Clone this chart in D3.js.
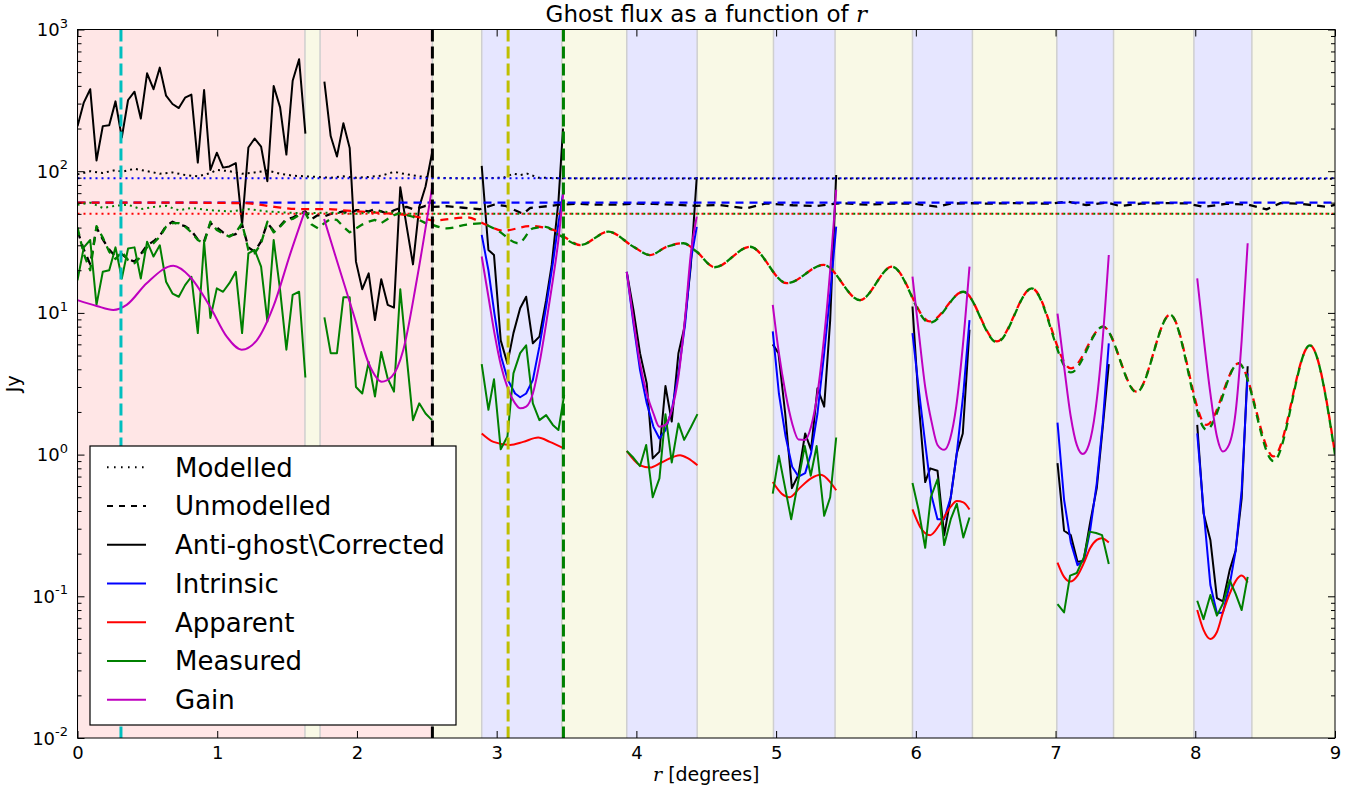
<!DOCTYPE html>
<html>
<head>
<meta charset="utf-8">
<script src="https://cdn.jsdelivr.net/npm/d3@7"></script>
<style>
  body { margin: 0; background: #fff; }
  text { font-family: "DejaVu Sans", sans-serif; }
</style>
</head>
<body>
<svg id="chart" width="1358" height="795"></svg>
<script>
// ---------------------------------------------------------------------------
// DATA (r in degrees, flux in Jy)
// ---------------------------------------------------------------------------
const xTickValues = [0, 1, 2, 3, 4, 5, 6, 7, 8, 9];
const yDecades = [-2, -1, 0, 1, 2, 3];

// shaded r ranges
const pinkSpans = [[0, 1.628], [1.736, 2.54]];
const blueSpans = [[2.893, 3.466], [3.931, 4.435], [4.981, 5.422], [5.976, 6.405], [7.009, 7.415], [7.99, 8.405]];

// vertical dashed markers
const markerR = [0.311, 2.54, 3.082, 3.478];
const markerColor = ["#00bfbf", "#000000", "#bfbf00", "#008000"];

// sample grid of the inner (noisy) region
const rLeft = [0.000, 0.045, 0.091, 0.136, 0.181, 0.227, 0.272, 0.317, 0.362, 0.408,
  0.453, 0.498, 0.544, 0.589, 0.634, 0.680, 0.725, 0.770, 0.815, 0.861,
  0.906, 0.951, 0.997, 1.042, 1.087, 1.133, 1.178, 1.223, 1.268, 1.314,
  1.359, 1.404, 1.450, 1.495, 1.540, 1.586, 1.631, 1.676, 1.721, 1.767,
  1.812, 1.857, 1.903, 1.948, 1.993, 2.038, 2.084, 2.129, 2.174, 2.220,
  2.265, 2.310, 2.356, 2.401, 2.446, 2.491, 2.537];

// solid "Anti-ghost\Corrected" (black) in the inner region
const corrLeft = [208, 305, 379, 119, 208, 211, 311, 173, 318, 364,
  235, 491, 379, 538, 341, 298, 279, 330, 347, 115,
  374, 102, 135, 106, 108, 114, 42, 147, 170, 149,
  85, 399, 282, 131, 435, 616, 184, null, null, 428,
  177, 127, 218, 146, 23, 14.7, 19, 8.9, 17.3, 11.4,
  10.9, 77, 40.6, 22, 56, 78, 134];

// solid "Measured" (green) in the inner region
const measLeft = [17, 29, 32.7, 11.4, 19.5, 20, 29, 17.5, 28.5, 29,
  17.5, 31.8, 25, 30, 16.6, 13.7, 13, 15.7, 18, 7.2,
  31.8, 9.2, 14.9, 14.1, 16.2, 19.5, 7.2, 26.3, 27.8, 21.2,
  8.7, 32.7, 14.5, 5.5, 13.4, 14.1, 3.5, null, null, 9.3,
  5.2, 5.2, 12.9, 12.9, 3.0, 2.7, 4.5, 2.57, 5.3, 3.45,
  2.78, 14.7, 4.9, 1.75, 2.3, 1.95, 1.75];

// dashed "Unmodelled" measured (green) and corrected (black), inner region
const unmodMeasLeft = [40, 26, 20, 41, 34, 27, 24, 27, 23.6, 22.4,
  25, 29, 31, 34.5, 40.6, 43, 43, 40.6, 37, 32.7,
  31, 44, 38.5, 36.4, 34.5, 37, 43, 27.8, 26.3, 31,
  44, 37, 40.6, 45.3, 46, 49, 50.5, 42, 39.5, 43,
  46, 45.3, 40.6, 37, 39.5, 42, 44, 45.3, 43, 46,
  49, 50.5, 49, 47.7, 45.3, 43, 42];
const unmodCorrLeft = [38, 28, 22, 40, 33, 28, 25, 26, 24, 23,
  26, 30, 32, 35, 41, 44, 42, 41, 38, 33,
  32, 43, 40, 37, 35, 36, 42, 29, 27, 32,
  43, 38, 41, 46, 47, 50, 52, 46, 49, 48,
  50, 51, 52, 50, 53, 53, 52, 54, 52, 50,
  53, 55, 56, 54, 55, 57, 56];

const unmodCorrTail = [[2.64, 56.6], [2.76, 55.2], [2.88, 53.9], [2.98, 58], [3.06, 57], [3.14, 52.6],
  [3.19, 50], [3.24, 55], [3.36, 56.6], [3.455, 58], [3.57, 59], [3.69, 58], [3.84, 58], [3.98, 59],
  [4.12, 58.8], [4.27, 58], [4.43, 57], [4.6, 57.7], [4.79, 54.7], [4.93, 59.3], [5.12, 57.5],
  [5.29, 56.8], [5.46, 59.5], [5.65, 58], [5.83, 59], [5.98, 59], [6.15, 56.2], [6.25, 59],
  [6.37, 59.5], [6.53, 59], [6.70, 59.5], [6.96, 59], [7.08, 61], [7.22, 57.7], [7.37, 60],
  [7.46, 56.8], [7.61, 59], [7.80, 59.5], [7.94, 59.3], [8.06, 56], [8.23, 59], [8.38, 58],
  [8.51, 53.8], [8.61, 59.5], [8.75, 59], [8.94, 56], [9.0, 58]];

const unmodApparent = [[0, 60], [0.6, 60], [1.2, 59.5], [1.41, 56], [1.6, 54], [1.8, 54], [1.9, 53],
  [2.13, 51], [2.37, 49], [2.46, 47], [2.55, 45], [2.786, 47.2], [2.929, 41.7], [3.048, 38],
  [3.24, 41], [3.406, 38.5], [3.50, 33.6], [3.598, 30.1], [3.80, 37.4], [3.979, 29.3],
  [4.098, 25.6], [4.217, 29.3], [4.337, 31], [4.432, 27], [4.56, 21], [4.814, 29.3],
  [5.077, 16.2], [5.34, 21.8], [5.60, 12.3], [5.83, 21.2], [6.10, 8.7], [6.34, 14.1],
  [6.58, 6.3], [6.83, 14.9], [7.11, 4.06], [7.34, 8.0], [7.58, 2.78], [7.82, 9.7],
  [8.08, 1.62], [8.31, 4.4], [8.56, 0.97], [8.82, 5.9], [9.0, 1.02]];

const unmodMeasTail = [[2.537, 42], [2.643, 39.5], [2.786, 42], [2.88, 42.8], [3.0, 38.5],
  [3.155, 31], [3.26, 39.5], [3.35, 40.5], [3.45, 35.3], [3.598, 30.1], [3.80, 37.4],
  [3.979, 29.3], [4.098, 25.6], [4.217, 29.3], [4.337, 31], [4.432, 27], [4.56, 21],
  [4.814, 29.3], [5.077, 16.2], [5.34, 21.8], [5.60, 12.3], [5.83, 21.2], [6.10, 8.5],
  [6.34, 14.1], [6.58, 6.2], [6.83, 14.9], [7.11, 3.8], [7.34, 8.0], [7.58, 2.75],
  [7.82, 9.7], [8.08, 1.5], [8.31, 4.4], [8.56, 0.9], [8.82, 5.9], [9.0, 1.0]];

const unmodIntrinsic = [[0, 60], [9, 60]];

// dotted "Modelled" lines
const modIntrinsic = [[0, 89], [9, 89]];
const modApparent = [[0, 50], [9, 50]];
const modCorr = [[0, 95], [0.091, 100], [0.181, 97], [0.272, 102], [0.317, 99], [0.408, 104],
  [0.498, 100], [0.589, 96], [0.680, 98], [0.770, 94], [0.861, 92], [0.951, 97], [0.997, 102],
  [1.087, 100], [1.178, 96], [1.268, 98], [1.359, 101], [1.450, 96], [1.540, 93], [1.631, 92],
  [1.721, 91], [1.812, 90], [1.903, 92], [1.993, 90], [2.084, 91], [2.174, 93], [2.265, 99],
  [2.356, 95], [2.446, 92], [2.537, 90], [2.8, 89], [3.05, 90], [3.12, 96], [3.17, 94],
  [3.22, 96], [3.3, 90], [3.5, 89], [9, 88.5]];
const modMeas = [[0, 58], [0.091, 60], [0.181, 55], [0.272, 57], [0.362, 58], [0.453, 54],
  [0.544, 56], [0.634, 57], [0.725, 53], [0.815, 55], [0.951, 53], [1.087, 52], [1.223, 54],
  [1.359, 52], [1.495, 51], [1.631, 50.5], [1.812, 51], [1.993, 50], [2.174, 52], [2.356, 50],
  [2.537, 50], [9, 50]];

// solid curves inside the shaded bands, one array per band
const corrBands = [
  [[2.893, 109], [2.941, 27.8], [2.981, 25.6], [3.029, 6.4], [3.077, 4.4], [3.12, 7.2], [3.168, 10.8], [3.211, 13], [3.259, 6.1], [3.306, 6.8], [3.354, 12.3], [3.394, 21.8], [3.442, 61], [3.475, 200]],
  [[3.931, 19.5], [3.979, 10.5], [4.026, 5.2], [4.074, 3.18], [4.117, 0.94], [4.165, 1.05], [4.208, 3.05], [4.253, 1.71], [4.301, 5.2], [4.342, 7.8], [4.389, 21.2], [4.432, 91]],
  [[4.976, 6.0], [5.017, 5.2], [5.065, 1.95], [5.113, 0.58], [5.16, 0.72], [5.208, 1.41], [5.25, 1.08], [5.296, 2.94], [5.344, 2.18], [5.387, 8.9], [5.43, 94]],
  [[5.976, 11.1], [6.019, 2.43], [6.067, 0.64], [6.103, 0.80], [6.155, 0.77], [6.203, 0.27], [6.25, 0.50], [6.293, 1.02], [6.336, 1.41], [6.384, 7.6]],
  [[7.014, 0.87], [7.061, 0.29], [7.109, 0.27], [7.157, 0.175], [7.2, 0.178], [7.247, 0.33], [7.295, 0.58], [7.338, 1.57], [7.381, 4.35]],
  [[8.014, 1.62], [8.059, 0.385], [8.108, 0.25], [8.155, 0.097], [8.198, 0.092], [8.246, 0.153], [8.289, 0.21], [8.332, 0.49], [8.375, 4.2]]
];
const intrinsicBands = [
  [[2.893, 35.5], [2.941, 20], [2.984, 9.9], [3.032, 4.9], [3.08, 3.36], [3.132, 2.7], [3.168, 2.54], [3.211, 2.7], [3.259, 3.36], [3.306, 5.8], [3.354, 11.1], [3.402, 22.4], [3.442, 42.9], [3.478, 73]],
  [[3.931, 19.5], [3.979, 8.4], [4.026, 3.95], [4.074, 2.3], [4.122, 1.57], [4.165, 1.30], [4.208, 1.49], [4.253, 2.06], [4.301, 3.74], [4.349, 8.4], [4.39, 23.6], [4.432, 40.5]],
  [[4.976, 7.4], [5.02, 2.7], [5.068, 1.34], [5.115, 0.82], [5.16, 0.70], [5.208, 0.74], [5.25, 1.02], [5.296, 1.95], [5.344, 5.2], [5.387, 13.7], [5.43, 40.6]],
  [[5.976, 7.2], [6.019, 3.0], [6.067, 1.2], [6.115, 0.50], [6.155, 0.35], [6.203, 0.35], [6.25, 0.50], [6.293, 1.02], [6.34, 2.7], [6.384, 8.9]],
  [[7.014, 1.68], [7.061, 0.48], [7.109, 0.24], [7.157, 0.166], [7.204, 0.18], [7.247, 0.29], [7.295, 0.63], [7.338, 1.68], [7.381, 6.1]],
  [[8.014, 1.41], [8.059, 0.41], [8.108, 0.12], [8.155, 0.076], [8.198, 0.077], [8.246, 0.12], [8.289, 0.21], [8.332, 0.56], [8.375, 3.74]]
];
const apparentBands = [
  [[2.893, 1.41], [2.977, 1.23], [3.096, 1.17], [3.19, 1.23], [3.297, 1.32], [3.38, 1.23], [3.478, 1.11]],
  [[3.931, 1.06], [4.026, 0.84], [4.098, 0.81], [4.18, 0.88], [4.313, 0.99], [4.37, 0.94], [4.437, 0.84]],
  [[4.976, 0.64], [5.04, 0.53], [5.097, 0.50], [5.168, 0.58], [5.25, 0.68], [5.32, 0.72], [5.387, 0.64], [5.43, 0.56]],
  [[5.976, 0.41], [6.03, 0.31], [6.103, 0.27], [6.17, 0.32], [6.25, 0.43], [6.293, 0.47], [6.34, 0.46], [6.384, 0.41]],
  [[7.014, 0.173], [7.061, 0.137], [7.104, 0.127], [7.157, 0.14], [7.204, 0.173], [7.247, 0.218], [7.295, 0.25], [7.33, 0.257], [7.381, 0.24]],
  [[8.014, 0.080], [8.059, 0.058], [8.108, 0.050], [8.155, 0.056], [8.198, 0.077], [8.246, 0.104], [8.289, 0.128], [8.332, 0.14], [8.375, 0.125]]
];
const measBands = [
  [[2.893, 4.35], [2.941, 2.07], [2.981, 3.4], [3.029, 1.09], [3.077, 1.34], [3.12, 3.74], [3.168, 5.2], [3.211, 5.9], [3.259, 2.3], [3.306, 1.75], [3.354, 1.9], [3.402, 1.62], [3.442, 1.49], [3.483, 2.63]],
  [[3.931, 1.06], [3.979, 0.95], [4.026, 0.83], [4.07, 1.17], [4.117, 0.50], [4.165, 0.68], [4.208, 1.93], [4.253, 0.88], [4.301, 1.66], [4.342, 1.27], [4.39, 1.56], [4.437, 1.93]],
  [[4.976, 0.53], [5.02, 0.98], [5.108, 0.35], [5.205, 1.15], [5.248, 0.71], [5.29, 1.15], [5.344, 0.37], [5.387, 0.50], [5.43, 1.32]],
  [[5.976, 0.63], [6.019, 0.41], [6.067, 0.22], [6.107, 0.50], [6.155, 0.67], [6.203, 0.23], [6.25, 0.35], [6.293, 0.45], [6.34, 0.26], [6.384, 0.36]],
  [[7.014, 0.088], [7.061, 0.077], [7.104, 0.14], [7.152, 0.146], [7.204, 0.19], [7.242, 0.286], [7.29, 0.28], [7.333, 0.27], [7.381, 0.169]],
  [[8.014, 0.093], [8.059, 0.069], [8.108, 0.102], [8.155, 0.073], [8.198, 0.089], [8.246, 0.13], [8.289, 0.104], [8.332, 0.08], [8.375, 0.137]]
];
const gainLeft = [
  [[0, 12.3], [0.137, 11.2], [0.256, 10.5], [0.352, 11.4], [0.495, 16.2], [0.686, 21.5], [0.805, 18], [0.948, 11.1], [1.068, 6.8], [1.175, 5.5], [1.283, 6.4], [1.402, 11.1], [1.522, 26], [1.626, 52]],
  [[1.765, 46], [1.855, 23.6], [1.974, 9.9], [2.093, 4.2], [2.177, 3.27], [2.249, 3.55], [2.332, 5.5], [2.428, 17], [2.537, 76]]
];
const gainBands = [
  [[2.893, 25], [2.941, 13], [2.984, 7.2], [3.032, 4.2], [3.08, 2.93], [3.132, 2.3], [3.168, 2.12], [3.211, 2.18], [3.259, 2.7], [3.306, 4.4], [3.354, 8.4], [3.402, 17], [3.442, 32.7], [3.478, 73]],
  [[3.931, 19.5], [3.979, 8.9], [4.026, 4.4], [4.074, 2.7], [4.122, 1.95], [4.165, 1.57], [4.208, 1.62], [4.253, 2.06], [4.301, 3.55], [4.349, 9.4], [4.39, 26.3], [4.432, 47.8]],
  [[4.976, 11.4], [5.02, 5.2], [5.068, 2.7], [5.115, 1.66], [5.16, 1.28], [5.208, 1.27], [5.25, 1.57], [5.296, 2.7], [5.344, 6.8], [5.387, 20], [5.43, 74]],
  [[5.976, 18], [6.019, 7.6], [6.067, 3.0], [6.115, 1.66], [6.155, 1.17], [6.203, 1.08], [6.246, 1.30], [6.289, 2.18], [6.336, 5.8], [6.384, 21.2]],
  [[7.014, 9.9], [7.061, 4.2], [7.109, 1.85], [7.152, 1.17], [7.195, 1.01], [7.238, 1.17], [7.286, 2.07], [7.333, 5.8], [7.381, 25.6]],
  [[8.014, 17.5], [8.059, 6.8], [8.108, 2.7], [8.155, 1.34], [8.198, 1.05], [8.241, 1.17], [8.289, 2.0], [8.332, 6.4], [8.375, 31]]
];

const legendLabels = ["Modelled", "Unmodelled", "Anti-ghost\\Corrected", "Intrinsic", "Apparent", "Measured", "Gain"];

// ---------------------------------------------------------------------------
// HELPERS
// ---------------------------------------------------------------------------
// join per-band arrays into one series with gaps between them
function withGaps(segments) {
  const out = [];
  segments.forEach((seg, i) => {
    if (i > 0) out.push(null);
    seg.forEach(p => out.push(p));
  });
  return out;
}
const onGrid = vals => rLeft.map((r, i) => vals[i] === null ? null : [r, vals[i]]);

// ---------------------------------------------------------------------------
// SCALES AND CANVAS
// ---------------------------------------------------------------------------
const plotL = 77.5, plotR = 1335, plotT = 29.5, plotB = 738;
const x = d3.scaleLinear().domain([0, 9]).range([plotL, plotR]);
const y = d3.scaleLog().domain([1e-2, 1e3]).range([plotB, plotT]);

const svg = d3.select("#chart");

svg.append("defs").append("clipPath").attr("id", "plot-clip")
  .append("rect")
  .attr("x", plotL).attr("y", plotT)
  .attr("width", plotR - plotL).attr("height", plotB - plotT);

const plot = svg.append("g").attr("clip-path", "url(#plot-clip)");

// background spans
plot.append("rect")
  .attr("x", plotL).attr("y", plotT)
  .attr("width", plotR - plotL).attr("height", plotB - plotT)
  .attr("fill", "#f9f9e6");

function spans(list, fill) {
  plot.append("g").selectAll("rect")
    .data(list)
    .join("rect")
    .attr("x", d => x(d[0]))
    .attr("y", plotT - 2)
    .attr("width", d => x(d[1]) - x(d[0]))
    .attr("height", plotB - plotT + 4)
    .attr("fill", fill)
    .attr("stroke", "#cfcfcf")
    .attr("stroke-width", 1.5);
}
spans(pinkSpans, "#ffe6e6");
spans(blueSpans, "#e6e6ff");

// ---------------------------------------------------------------------------
// LINES
// ---------------------------------------------------------------------------
const DOT = "2,4";
const DASH = "8,6";

function drawLine(data, color, dash, curve) {
  const line = d3.line()
    .defined(d => d !== null)
    .x(d => x(d[0]))
    .y(d => y(d[1]))
    .curve(curve || d3.curveLinear);
  plot.append("path")
    .datum(data)
    .attr("d", line)
    .attr("fill", "none")
    .attr("stroke", color)
    .attr("stroke-width", dash === DASH ? 2.3 : 2)
    .attr("stroke-linejoin", "round")
    .attr("stroke-dasharray", dash || null);
}

const smooth = d3.curveMonotoneX;

// anti-ghost corrected (black)
drawLine(modCorr, "#000000", DOT);
drawLine(onGrid(unmodCorrLeft).concat(unmodCorrTail), "#000000", DASH);
drawLine(onGrid(corrLeft).concat([null], withGaps(corrBands)), "#000000");

// intrinsic (blue)
drawLine(modIntrinsic, "#0000ff", DOT);
drawLine(unmodIntrinsic, "#0000ff", DASH);
drawLine(withGaps(intrinsicBands), "#0000ff");

// apparent (red)
drawLine(modApparent, "#ff0000", DOT);
drawLine(unmodApparent, "#ff0000", DASH, smooth);
drawLine(withGaps(apparentBands), "#ff0000", null, smooth);

// measured (green)
drawLine(modMeas, "#008000", DOT);
drawLine(onGrid(unmodMeasLeft), "#008000", DASH);
drawLine(unmodMeasTail, "#008000", DASH, smooth);
drawLine(onGrid(measLeft).concat([null], withGaps(measBands)), "#008000");

// gain (magenta)
drawLine(withGaps(gainLeft.concat(gainBands)), "#bf00bf", null, smooth);

// vertical markers
plot.append("g").selectAll("line")
  .data(markerR)
  .join("line")
  .attr("x1", d => x(d)).attr("x2", d => x(d))
  .attr("y1", plotT).attr("y2", plotB)
  .attr("stroke", (d, i) => markerColor[i])
  .attr("stroke-width", 3)
  .attr("stroke-dasharray", "12,5");

// ---------------------------------------------------------------------------
// AXES (matplotlib-classic: ticks inside, on all four sides)
// ---------------------------------------------------------------------------
const yMajor = yDecades.map(e => Math.pow(10, e));
const yMinor = [];
yDecades.slice(0, -1).forEach(e => {
  for (let m = 2; m <= 9; m++) yMinor.push(m * Math.pow(10, e));
});

function styleAxis(g) {
  g.select(".domain").remove();
  g.selectAll(".tick line").attr("stroke", "#000").attr("stroke-width", 1);
}

svg.append("g")
  .attr("transform", `translate(0,${plotB})`)
  .call(d3.axisBottom(x).tickValues(xTickValues).tickSize(-7).tickPadding(8).tickFormat(d3.format("d")))
  .call(styleAxis)
  .call(g => g.selectAll("text")
    .attr("font-family", "DejaVu Sans")
    .attr("font-size", 18)
    .attr("fill", "#000"));

svg.append("g")
  .attr("transform", `translate(0,${plotT})`)
  .call(d3.axisTop(x).tickValues(xTickValues).tickSize(-7).tickFormat(""))
  .call(styleAxis);

[[d3.axisLeft, plotL], [d3.axisRight, plotR]].forEach(([ax, pos]) => {
  svg.append("g")
    .attr("transform", `translate(${pos},0)`)
    .call(ax(y).tickValues(yMajor).tickSize(-7).tickFormat(""))
    .call(styleAxis);
  svg.append("g")
    .attr("transform", `translate(${pos},0)`)
    .call(ax(y).tickValues(yMinor).tickSize(-4).tickFormat(""))
    .call(styleAxis);
});

// y tick labels 10^n
const yLab = svg.append("g")
  .selectAll("text")
  .data(yDecades)
  .join("text")
  .attr("x", 68)
  .attr("y", d => y(Math.pow(10, d)) + 6.5)
  .attr("text-anchor", "end")
  .attr("font-size", 18)
  .attr("fill", "#000");
yLab.append("tspan").text("10");
yLab.append("tspan")
  .attr("dy", -8.5)
  .attr("font-size", 13)
  .text(d => String(d));

// frame
svg.append("rect")
  .attr("x", plotL).attr("y", plotT)
  .attr("width", plotR - plotL).attr("height", plotB - plotT)
  .attr("fill", "none")
  .attr("stroke", "#000")
  .attr("stroke-width", 1);

// ---------------------------------------------------------------------------
// TITLES
// ---------------------------------------------------------------------------
const title = svg.append("text")
  .attr("x", (plotL + plotR) / 2)
  .attr("y", 21.5)
  .attr("text-anchor", "middle")
  .attr("font-size", 23)
  .attr("fill", "#000");
title.append("tspan").text("Ghost flux as a function of ");
title.append("tspan")
  .attr("font-family", "DejaVu Serif")
  .attr("font-style", "italic")
  .text("r");

const xlab = svg.append("text")
  .attr("x", (plotL + plotR) / 2)
  .attr("y", 781)
  .attr("text-anchor", "middle")
  .attr("font-size", 19)
  .attr("fill", "#000");
xlab.append("tspan")
  .attr("font-family", "DejaVu Serif")
  .attr("font-style", "italic")
  .text("r");
xlab.append("tspan").text(" [degrees]");

svg.append("text")
  .attr("transform", `translate(20,${(plotT + plotB) / 2}) rotate(-90)`)
  .attr("text-anchor", "middle")
  .attr("font-size", 19)
  .attr("fill", "#000")
  .text("Jy");

// ---------------------------------------------------------------------------
// LEGEND
// ---------------------------------------------------------------------------
const legendStyles = [
  { color: "#000000", dash: "1.6,5.4" },
  { color: "#000000", dash: "6,6" },
  { color: "#000000", dash: null },
  { color: "#0000ff", dash: null },
  { color: "#ff0000", dash: null },
  { color: "#008000", dash: null },
  { color: "#bf00bf", dash: null }
];

const legend = svg.append("g");
legend.append("rect")
  .attr("x", 90).attr("y", 446)
  .attr("width", 366).attr("height", 279)
  .attr("fill", "#fff")
  .attr("stroke", "#000")
  .attr("stroke-width", 1.2);

const rowY = d3.scaleLinear().domain([0, 6]).range([467.3, 699.7]);
const row = legend.selectAll("g.row")
  .data(legendLabels)
  .join("g")
  .attr("class", "row")
  .attr("transform", (d, i) => `translate(0,${rowY(i)})`);

row.append("line")
  .attr("x1", 107).attr("x2", 146)
  .attr("stroke", (d, i) => legendStyles[i].color)
  .attr("stroke-width", 2)
  .attr("stroke-dasharray", (d, i) => legendStyles[i].dash);

row.append("text")
  .attr("x", 175)
  .attr("dy", "0.36em")
  .attr("font-size", 26)
  .attr("fill", "#000")
  .text(d => d);
</script>
</body>
</html>
